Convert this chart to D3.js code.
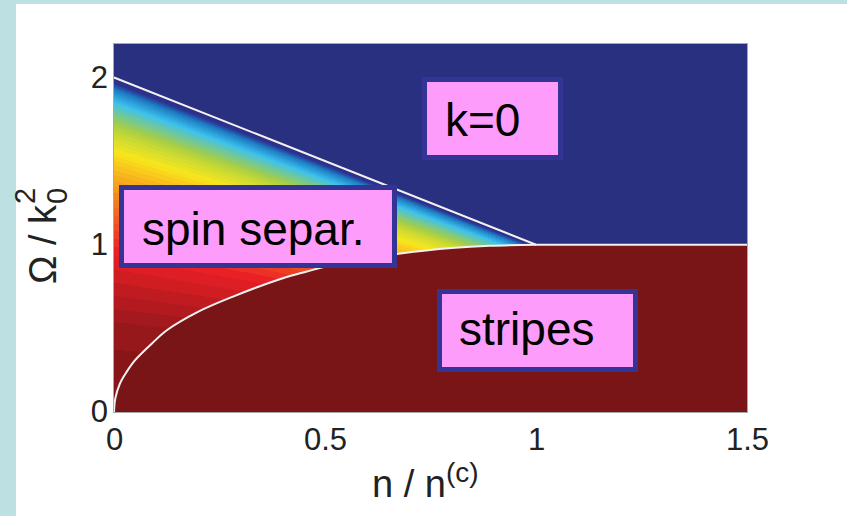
<!DOCTYPE html>
<html>
<head>
<meta charset="utf-8">
<script src="https://cdn.jsdelivr.net/npm/d3@7"></script>
<style>
  html, body { margin: 0; padding: 0; background: #ffffff; }
  svg { display: block; }
  text { font-family: "Liberation Sans", Arial, Helvetica, sans-serif; }
</style>
</head>
<body>
<svg id="chart" width="847" height="516"></svg>
<script>
// ---- data ---------------------------------------------------------------
// upper phase boundary (k=0 / spin separated), n / n(c) vs Omega / k0^2
const upperN     = [0, 1.0, 1.5];
const upperOmega = [2.0, 1.0, 1.0];
// lower phase boundary (spin separated / stripes)
const lowerN     = [0, 0.003, 0.014, 0.03, 0.05, 0.09, 0.126, 0.2, 0.282, 0.4, 0.457, 0.519, 0.6, 0.67, 0.8, 0.89, 1.0, 1.5];
const lowerOmega = [0, 0.08, 0.17, 0.24, 0.31, 0.41, 0.49, 0.60, 0.69, 0.80, 0.84, 0.88, 0.92, 0.945, 0.98, 0.994, 1.0, 1.0];
// colour level inside the spin separated phase, against Omega relative to the upper boundary
const profileRatio = [0, 0.25, 0.48, 0.65, 0.705, 0.755, 0.835, 0.92, 0.965, 1.0];
const profileLevel = [1, 0.968, 0.875, 0.76, 0.71, 0.656, 0.55, 0.39, 0.26, 0];
// colour map stops
const cmapStops  = [0, 0.125, 0.25, 0.375, 0.5, 0.625, 0.75, 0.875, 1];
const cmapColors = ["#29307f", "#2e3192", "#1a74bd", "#3cc2ef", "#a3cd48", "#f8e71c", "#f7941d", "#e91f26", "#7a1517"];
// ticks and labels
const xTicks = [0, 0.5, 1, 1.5];
const xTickLabels = ["0", "0.5", "1", "1.5"];
const yTicks = [0, 1, 2];
const yTickLabels = ["0", "1", "2"];
const regionLabels = ["k=0", "spin separ.", "stripes"];

// ---- layout -------------------------------------------------------------
const W = 847, H = 516;
const plot = { left: 114, right: 747, top: 44, bottom: 412 };
const x = d3.scaleLinear().domain([0, 1.5]).range([plot.left, plot.right]);
const y = d3.scaleLinear().domain([0, 2.2]).range([plot.bottom, plot.top]);

const svg = d3.select("#chart");

// page frame strips
svg.append("rect").attr("x", 0).attr("y", 0).attr("width", W).attr("height", 4).attr("fill", "#bde1e3");
svg.append("rect").attr("x", 0).attr("y", 0).attr("width", 16).attr("height", H).attr("fill", "#bde1e3");

// ---- phase diagram field (rasterised) -----------------------------------
const upperAt = d3.scaleLinear().domain(upperN).range(upperOmega).clamp(true);
const lowerAt = d3.scaleLinear().domain(lowerN).range(lowerOmega).clamp(true);
const levelAt = d3.scaleLinear().domain(profileRatio).range(profileLevel).clamp(true);
const cmap = d3.scaleLinear().domain(cmapStops).range(cmapColors).interpolate(d3.interpolateRgb);

const pw = plot.right - plot.left, ph = plot.bottom - plot.top;
const canvas = document.createElement("canvas");
canvas.width = pw; canvas.height = ph;
const ctx = canvas.getContext("2d");
const img = ctx.createImageData(pw, ph);
const nLevels = 64;
const palette = d3.range(nLevels).map(i => d3.rgb(cmap(i / (nLevels - 1))));
for (let px = 0; px < pw; px++) {
  const n = x.invert(plot.left + px + 0.5);
  const up = upperAt(n), lo = lowerAt(n);
  for (let py = 0; py < ph; py++) {
    const om = y.invert(plot.top + py + 0.5);
    let lev;
    if (om >= up) lev = 0;
    else if (om <= lo) lev = 1;
    else lev = levelAt(om / up);
    const c = palette[Math.round(lev * (nLevels - 1))];
    const k = (py * pw + px) * 4;
    img.data[k] = c.r; img.data[k + 1] = c.g; img.data[k + 2] = c.b; img.data[k + 3] = 255;
  }
}
ctx.putImageData(img, 0, 0);
svg.append("image")
  .attr("x", plot.left).attr("y", plot.top)
  .attr("width", pw).attr("height", ph)
  .attr("href", canvas.toDataURL());

// boundary lines
svg.append("path")
  .datum(d3.zip(upperN, upperOmega))
  .attr("d", d3.line().x(d => x(d[0])).y(d => y(d[1])))
  .attr("fill", "none").attr("stroke", "#f2f2f2").attr("stroke-width", 2);
svg.append("path")
  .datum(d3.zip(lowerN, lowerOmega).filter(d => d[0] <= 1))
  .attr("d", d3.line().x(d => x(d[0])).y(d => y(d[1])).curve(d3.curveCatmullRom.alpha(0.5)))
  .attr("fill", "none").attr("stroke", "#f2f2f2").attr("stroke-width", 2);

// plot frame
svg.append("rect")
  .attr("x", plot.left - 0.5).attr("y", plot.top - 0.5)
  .attr("width", pw + 1).attr("height", ph + 1)
  .attr("fill", "none").attr("stroke", "#a8a8a8").attr("stroke-width", 1);

// ---- axes ---------------------------------------------------------------
const xAxis = d3.axisBottom(x).tickValues(xTicks).tickSize(0).tickPadding(16)
  .tickFormat((d, i) => xTickLabels[i]);
const gx = svg.append("g").attr("transform", `translate(0,${plot.bottom})`).call(xAxis);
gx.select(".domain").remove();
gx.selectAll("text").attr("font-size", 31).attr("fill", "#222")
  .style("font-family", "'Liberation Sans', Arial, sans-serif");

const yAxis = d3.axisLeft(y).tickValues(yTicks).tickSize(0).tickPadding(6)
  .tickFormat((d, i) => yTickLabels[i]);
const gy = svg.append("g").attr("transform", `translate(${plot.left},0)`).call(yAxis);
gy.select(".domain").remove();
gy.selectAll("text").attr("font-size", 31).attr("fill", "#222")
  .style("font-family", "'Liberation Sans', Arial, sans-serif");

// x axis title: n / n^(c)
const xt = svg.append("text").attr("x", 372).attr("y", 497).attr("font-size", 38).attr("fill", "#222");
xt.append("tspan").text("n / n");
xt.append("tspan").attr("font-size", 28).attr("dy", -15).text("(c)");

// y axis title: Omega / k_0^2 (rotated)
const yt = svg.append("g").attr("transform", "translate(56,284) rotate(-90)");
const main = yt.append("text").attr("x", 0).attr("y", 0).attr("font-size", 38).attr("fill", "#222").text("Ω / k");
const mLen = main.node().getComputedTextLength();
yt.append("text").attr("x", mLen + 1).attr("y", 11).attr("font-size", 29).attr("fill", "#222").text("0");
yt.append("text").attr("x", mLen + 1).attr("y", -21).attr("font-size", 29).attr("fill", "#222").text("2");

// ---- region labels ------------------------------------------------------
const boxes = [
  { l: 422, r: 563, t: 77,  b: 160, tx: 445, ty: 136 },
  { l: 119, r: 397, t: 185, b: 268, tx: 142, ty: 245 },
  { l: 437, r: 638, t: 289, b: 372, tx: 459, ty: 345 }
];
const lab = svg.append("g").selectAll("g").data(regionLabels).join("g");
lab.append("rect")
  .attr("x", (d, i) => boxes[i].l + 2.5).attr("y", (d, i) => boxes[i].t + 2.5)
  .attr("width", (d, i) => boxes[i].r - boxes[i].l - 5)
  .attr("height", (d, i) => boxes[i].b - boxes[i].t - 5)
  .attr("fill", "#fd9cfb").attr("stroke", "#343497").attr("stroke-width", 5);
lab.append("text")
  .attr("x", (d, i) => boxes[i].tx).attr("y", (d, i) => boxes[i].ty)
  .attr("font-size", 46).attr("fill", "#000").text(d => d);
</script>
</body>
</html>
